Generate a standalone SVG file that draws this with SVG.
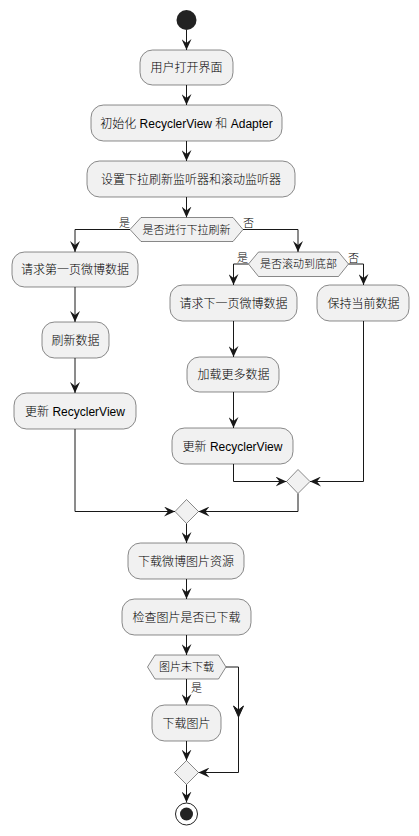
<svg xmlns="http://www.w3.org/2000/svg" width="419" height="836" viewBox="0 0 419 836">
  <style>
    .act { fill: #F1F1F1; stroke: #181818; stroke-width: 0.5; }
    .lbl { font-family: "Liberation Sans", "Noto Sans CJK SC", sans-serif; font-size: 12px; font-weight: 300; fill: #000000; text-anchor: middle; }
    .cond { font-size: 11px; }
    .side { font-family: "Liberation Sans", "Noto Sans CJK SC", sans-serif; font-size: 11px; font-weight: 300; fill: #000000; }
    .edge { fill: none; stroke: #181818; stroke-width: 1; }
    .head { fill: #181818; stroke: #181818; stroke-width: 1; }
  </style>
  <defs>
    <marker id="arrow" viewBox="0 0 11 10" refX="11" refY="5" markerWidth="11" markerHeight="10" markerUnits="userSpaceOnUse" orient="auto">
      <path d="M0,0 L11,5 L0,10 L4,5 Z" fill="#181818"/>
    </marker>
  </defs>
  <rect width="419" height="836" fill="#FFFFFF"/>

  <!-- connectors -->
  <g id="connectors">
    <path class="edge" d="M186.5,30 V50" marker-end="url(#arrow)"/>
    <path class="edge" d="M186.5,85 V105" marker-end="url(#arrow)"/>
    <path class="edge" d="M186.5,141 V161" marker-end="url(#arrow)"/>
    <path class="edge" d="M186.5,197 V217.5" marker-end="url(#arrow)"/>
    <!-- refresh decision -->
    <path class="edge" d="M130,229.5 H75 V252" marker-end="url(#arrow)"/>
    <path class="edge" d="M243,229.5 H298 V252" marker-end="url(#arrow)"/>
    <!-- scroll decision -->
    <path class="edge" d="M248.5,264 H233.5 V285" marker-end="url(#arrow)"/>
    <path class="edge" d="M348.5,264 H363.5 V285" marker-end="url(#arrow)"/>
    <!-- left column -->
    <path class="edge" d="M75,287 V322" marker-end="url(#arrow)"/>
    <path class="edge" d="M75,358 V393" marker-end="url(#arrow)"/>
    <!-- middle column -->
    <path class="edge" d="M233.5,321 V357" marker-end="url(#arrow)"/>
    <path class="edge" d="M233.5,392 V428" marker-end="url(#arrow)"/>
    <!-- inner merge -->
    <path class="edge" d="M233.5,464 V481.5 H286.5" marker-end="url(#arrow)"/>
    <path class="edge" d="M363.5,321 V481.5 H310" marker-end="url(#arrow)"/>
    <!-- outer merge -->
    <path class="edge" d="M75,429 V511.5 H175" marker-end="url(#arrow)"/>
    <path class="edge" d="M298,493.5 V511.5 H198.5" marker-end="url(#arrow)"/>
    <path class="edge" d="M186.5,523.5 V543" marker-end="url(#arrow)"/>
    <path class="edge" d="M186.5,579 V599" marker-end="url(#arrow)"/>
    <path class="edge" d="M186.5,635 V655" marker-end="url(#arrow)"/>
    <!-- download decision -->
    <path class="edge" d="M186.5,679 V705" marker-end="url(#arrow)"/>
    <path class="edge" d="M226,667 H238.5 V772.5 H198.5" marker-end="url(#arrow)"/>
    <path class="head" d="M233.5,706 L238.5,717 L243.5,706 L238.5,710 Z"/>
    <path class="edge" d="M186.5,741 V760.5" marker-end="url(#arrow)"/>
    <path class="edge" d="M186.5,784.5 V802.5" marker-end="url(#arrow)"/>
  </g>

  <g id="start">
    <circle cx="186.5" cy="20" r="10" fill="#222222"/>
  </g>

  <g id="open-screen">
    <rect class="act" x="140" y="50" width="93" height="35" rx="12.5"/>
    <text class="lbl" x="186.5" y="71.5">用户打开界面</text>
  </g>

  <g id="init-adapter">
    <rect class="act" x="91" y="105" width="191" height="36" rx="12.5"/>
    <text class="lbl" x="186.5" y="127.5">初始化 RecyclerView 和 Adapter</text>
  </g>

  <g id="set-listeners">
    <rect class="act" x="87" y="161" width="208" height="36" rx="12.5"/>
    <text class="lbl" x="191" y="183.5">设置下拉刷新监听器和滚动监听器</text>
  </g>

  <g id="pull-refresh-check">
    <polygon class="act" points="130,229.5 141,217.5 233,217.5 243,229.5 233,241.5 141,241.5"/>
    <text class="lbl cond" x="186.5" y="233.5">是否进行下拉刷新</text>
    <text class="side" x="119" y="227">是</text>
    <text class="side" x="243" y="227">否</text>
  </g>

  <g id="request-first-page">
    <rect class="act" x="12" y="252" width="126" height="35" rx="12.5"/>
    <text class="lbl" x="75" y="273.5">请求第一页微博数据</text>
  </g>

  <g id="refresh-data">
    <rect class="act" x="42" y="322" width="67" height="36" rx="12.5"/>
    <text class="lbl" x="75.5" y="344.5">刷新数据</text>
  </g>

  <g id="update-view-left">
    <rect class="act" x="14" y="393" width="122" height="36" rx="12.5"/>
    <text class="lbl" x="75" y="415.5">更新 RecyclerView</text>
  </g>

  <g id="scroll-bottom-check">
    <polygon class="act" points="248.5,264 258.5,252 338.5,252 348.5,264 338.5,276.5 258.5,276.5"/>
    <text class="lbl cond" x="298.5" y="268">是否滚动到底部</text>
    <text class="side" x="237" y="261.5">是</text>
    <text class="side" x="348" y="261.5">否</text>
  </g>

  <g id="request-next-page">
    <rect class="act" x="170" y="285" width="127" height="36" rx="12.5"/>
    <text class="lbl" x="233.5" y="307.5">请求下一页微博数据</text>
  </g>

  <g id="keep-data">
    <rect class="act" x="317" y="285" width="92" height="36" rx="12.5"/>
    <text class="lbl" x="363.5" y="307.5">保持当前数据</text>
  </g>

  <g id="load-more">
    <rect class="act" x="187" y="357" width="92" height="35" rx="12.5"/>
    <text class="lbl" x="233.5" y="378.5">加载更多数据</text>
  </g>

  <g id="update-view-right">
    <rect class="act" x="172" y="428" width="121" height="36" rx="12.5"/>
    <text class="lbl" x="232.5" y="450.5">更新 RecyclerView</text>
  </g>

  <g id="merge-inner">
    <polygon class="act" points="298,469.5 310,481.5 298,493.5 286.5,481.5"/>
  </g>

  <g id="merge-outer">
    <polygon class="act" points="186.5,499.5 198.5,511.5 186.5,523.5 175,511.5"/>
  </g>

  <g id="download-resources">
    <rect class="act" x="128" y="543" width="116" height="36" rx="12.5"/>
    <text class="lbl" x="186" y="565.5">下载微博图片资源</text>
  </g>

  <g id="check-downloaded">
    <rect class="act" x="122" y="599" width="129" height="36" rx="12.5"/>
    <text class="lbl" x="186.5" y="621.5">检查图片是否已下载</text>
  </g>

  <g id="not-downloaded-check">
    <polygon class="act" points="147.5,667 155,655 218.5,655 226,667 218.5,679 155,679"/>
    <text class="lbl cond" x="186.5" y="671">图片末下载</text>
    <text class="side" x="191" y="692">是</text>
  </g>

  <g id="download-image">
    <rect class="act" x="152" y="705" width="69" height="36" rx="12.5"/>
    <text class="lbl" x="186.5" y="727.5">下载图片</text>
  </g>

  <g id="merge-final">
    <polygon class="act" points="186.5,760.5 198.5,772.5 186.5,784.5 174.5,772.5"/>
  </g>

  <g id="end">
    <circle cx="186.5" cy="814" r="11" fill="none" stroke="#222222" stroke-width="1"/>
    <circle cx="186.5" cy="814" r="6.5" fill="#222222"/>
  </g>
</svg>
